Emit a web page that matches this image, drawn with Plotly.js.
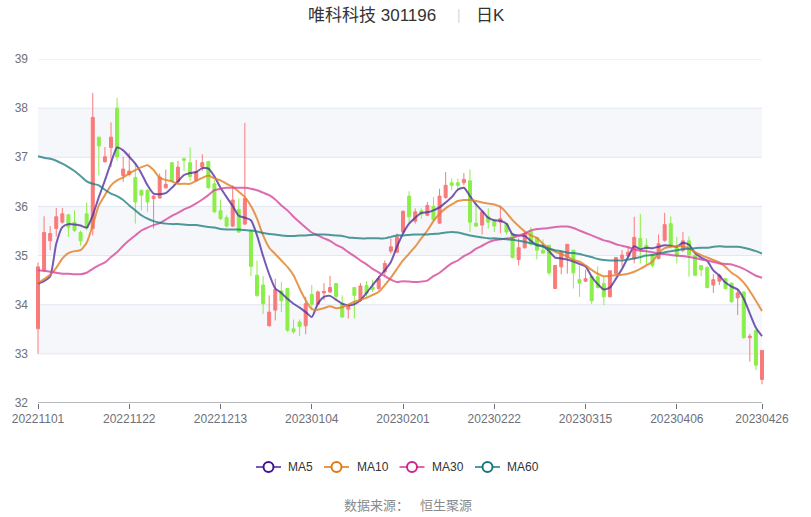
<!DOCTYPE html>
<html><head><meta charset="utf-8">
<script src="https://cdn.plot.ly/plotly-3.0.1.min.js"></script>
<style>html,body{margin:0;padding:0;background:#fff}#chart{width:811px;height:517px}</style>
</head><body><div id="chart"></div>
<script>
const dates = ['20221101','20221102','20221103','20221104','20221107','20221108','20221109','20221110','20221111','20221114','20221115','20221116','20221117','20221118','20221121','20221122','20221123','20221124','20221125','20221128','20221129','20221130',
'20221201','20221202','20221205','20221206','20221207','20221208','20221209','20221212','20221213','20221214','20221215','20221216','20221219','20221220','20221221','20221222','20221223','20221226','20221227','20221228','20221229','20221230',
'20230103','20230104','20230105','20230106','20230109','20230110','20230111','20230112','20230113','20230116','20230117','20230118','20230119','20230120','20230130','20230131',
'20230201','20230202','20230203','20230206','20230207','20230208','20230209','20230210','20230213','20230214','20230215','20230216','20230217','20230220','20230221','20230222','20230223','20230224','20230227','20230228',
'20230301','20230302','20230303','20230306','20230307','20230308','20230309','20230310','20230313','20230314','20230315','20230316','20230317','20230320','20230321','20230322','20230323','20230324','20230327','20230328','20230329','20230330','20230331',
'20230403','20230404','20230406','20230407','20230410','20230411','20230412','20230413','20230414','20230417','20230418','20230419','20230420','20230421','20230424','20230425','20230426'];
const tickIndex = [0,15,30,45,60,75,90,105,119];
const yTicks = [32,33,34,35,36,37,38,39];

const openP = [33.51,34.70,35.30,35.55,35.68,35.83,35.68,35.47,35.85,35.55,
37.41,36.91,37.20,38.00,36.63,36.65,36.59,36.33,36.33,36.16,
36.17,36.38,36.89,36.50,36.97,36.89,36.53,36.80,36.91,36.46,
35.91,35.77,35.60,35.94,35.64,35.51,34.60,34.40,33.57,33.89,
34.28,34.33,33.51,33.65,33.57,34.21,34.01,34.24,34.26,34.43,
34.02,33.91,34.35,34.09,34.39,34.36,34.33,34.67,35.09,35.07,
35.48,36.21,35.70,35.91,35.82,36.00,35.66,36.18,36.48,36.48,
36.48,36.52,35.66,35.62,35.80,35.72,35.68,35.65,35.45,34.92,
35.16,35.49,35.37,35.11,35.21,34.33,34.77,34.96,35.11,34.51,
34.48,34.58,34.57,34.43,34.16,34.63,34.94,34.99,34.94,35.35,
35.21,35.03,34.94,35.31,35.65,35.16,35.11,35.30,35.01,34.80,
34.76,34.40,34.48,34.53,34.44,34.14,34.26,33.33,33.48,32.48];
const highP = [34.86,35.80,35.60,35.97,35.97,35.85,35.92,35.51,36.08,38.31,
37.41,37.21,37.71,38.21,37.01,37.09,36.87,36.34,36.34,36.23,
36.67,36.75,36.89,36.93,36.99,37.20,36.95,37.06,36.93,36.53,
36.14,35.82,36.43,36.16,37.70,35.51,34.90,34.58,34.19,34.53,
34.46,34.33,33.70,33.70,34.16,34.40,34.29,34.44,34.59,34.43,
34.19,34.02,34.35,34.44,34.48,34.51,34.58,34.90,35.35,35.45,
35.92,36.31,35.96,35.96,36.09,36.19,36.36,36.70,36.57,36.57,
36.68,36.75,36.07,35.92,35.96,35.72,36.02,35.65,35.45,35.35,
35.48,35.58,35.37,35.33,35.21,34.80,35.11,35.23,35.11,34.80,
34.71,34.58,34.78,34.57,34.69,34.96,35.11,35.18,35.79,35.85,
35.35,35.03,35.43,35.87,35.80,35.38,35.48,35.39,35.01,34.80,
34.78,34.62,34.63,34.53,34.44,34.33,34.26,33.41,33.48,33.07];
const lowP = [33.00,34.66,35.11,35.39,35.65,35.38,35.48,35.20,35.51,35.41,
36.63,36.89,36.80,36.93,36.50,36.61,35.65,35.92,35.89,35.55,
36.16,36.36,36.49,36.46,36.72,36.52,36.50,36.72,36.36,35.87,
35.72,35.57,35.58,35.46,35.62,34.58,34.16,33.81,33.56,33.68,
33.85,33.45,33.41,33.36,33.40,33.92,33.99,34.09,34.24,34.12,
33.74,33.72,33.72,34.06,34.16,34.26,34.29,34.58,35.04,35.05,
35.46,35.66,35.65,35.75,35.80,35.70,35.65,36.16,36.33,36.34,
36.43,35.48,35.58,35.43,35.55,35.48,35.46,35.43,34.94,34.80,
35.14,35.21,34.92,35.04,34.60,34.33,34.62,34.63,34.33,34.16,
34.46,34.02,34.33,33.99,34.16,34.60,34.77,34.97,34.84,34.84,
34.80,34.76,34.92,35.28,35.14,34.84,35.07,34.57,34.58,34.58,
34.33,34.24,34.40,34.31,34.04,33.79,33.31,32.84,32.67,32.38];
const closeP = [34.77,35.47,35.45,35.79,35.85,35.58,35.51,35.30,35.56,37.81,
37.23,37.01,37.41,37.01,36.76,36.72,36.09,36.23,36.09,36.21,
36.60,36.45,36.52,36.80,36.94,36.61,36.70,36.89,36.38,35.89,
35.75,35.60,36.13,35.48,36.16,34.78,34.19,34.02,33.85,34.31,
34.08,33.48,33.45,33.56,34.02,34.01,34.26,34.27,34.35,34.17,
33.75,33.99,34.19,34.38,34.23,34.31,34.53,34.84,35.18,35.38,
35.90,35.79,35.89,35.84,36.02,35.73,36.21,36.43,36.43,36.43,
36.55,35.68,35.60,35.89,35.68,35.60,35.75,35.48,34.96,35.16,
35.45,35.24,35.11,35.05,34.65,34.80,35.07,35.23,34.65,34.44,
34.53,34.08,34.35,34.16,34.69,34.96,35.01,35.07,35.37,35.16,
35.14,34.80,35.24,35.63,35.20,34.99,35.30,35.01,34.60,34.71,
34.35,34.51,34.60,34.33,34.06,34.24,33.33,33.36,32.77,33.07];

const ma5 = [34.43,34.48,34.58,35.24,35.58,35.64,35.63,35.61,35.57,35.82,
36.19,36.53,36.89,37.20,37.14,37.01,36.87,36.67,36.43,36.26,
36.25,36.27,36.38,36.51,36.64,36.68,36.70,36.78,36.77,36.61,
36.38,36.19,36.01,35.81,35.77,35.72,35.41,34.99,34.62,34.33,
34.24,34.12,34.02,33.94,33.85,33.75,34.02,34.16,34.18,
34.10,34.02,33.99,34.01,34.09,34.24,34.40,34.55,34.70,34.87,
35.18,35.45,35.65,35.77,35.87,35.88,35.92,35.98,36.08,36.19,
36.34,36.38,36.21,36.04,35.91,35.77,35.72,35.71,35.65,35.43,
35.41,35.40,35.30,35.21,35.20,35.09,34.96,34.94,34.92,34.88,
34.83,34.78,34.57,34.42,34.31,34.35,34.53,34.73,34.97,35.19,
35.13,35.16,35.15,35.18,35.21,35.20,35.18,35.26,35.22,35.05,
34.96,34.89,34.70,34.59,34.45,34.37,34.31,34.12,33.82,33.53,33.36];
const ma10 = [34.44,34.52,34.61,34.75,34.94,35.05,35.09,35.11,35.26,35.62,
36.02,36.23,36.43,36.53,36.59,36.67,36.74,36.80,36.84,36.74,
36.58,36.54,36.51,36.46,36.46,36.46,36.52,36.58,36.63,36.57,
36.53,36.46,36.40,36.30,36.19,36.01,35.75,35.41,35.16,35.03,
34.90,34.77,34.60,34.33,34.09,33.91,33.90,33.93,33.97,
33.93,33.95,34.00,34.06,34.10,34.14,34.20,34.26,34.40,34.55,
34.73,34.90,35.04,35.18,35.35,35.51,35.70,35.85,35.96,36.04,
36.11,36.13,36.13,36.11,36.08,36.06,36.04,35.99,35.87,35.72,
35.60,35.49,35.41,35.36,35.24,35.15,35.08,35.03,34.98,34.91,
34.88,34.80,34.71,34.63,34.58,34.59,34.60,34.61,34.63,34.67,
34.73,34.80,34.88,35.05,35.15,35.18,35.19,35.19,35.14,35.07,
35.01,34.96,34.91,34.86,34.77,34.65,34.57,34.45,34.28,34.08,33.87];
const ma30 = [34.70,34.69,34.67,34.65,34.63,34.63,34.62,34.62,34.65,34.73,
34.80,34.86,34.97,35.07,35.20,35.31,35.41,35.51,35.57,35.62,
35.66,35.73,35.81,35.87,35.94,35.99,36.06,36.14,36.23,36.33,
36.36,36.38,36.38,36.38,36.38,36.36,36.33,36.28,36.23,36.14,
36.02,35.92,35.79,35.68,35.57,35.47,35.41,35.35,35.30,35.22,
35.16,35.07,34.99,34.90,34.82,34.73,34.66,34.58,34.51,34.46,
34.48,34.47,34.46,34.47,34.49,34.58,34.65,34.75,34.84,
34.90,34.99,35.05,35.14,35.20,35.27,35.31,35.33,35.35,35.36,
35.40,35.45,35.51,35.54,35.55,35.56,35.58,35.59,35.59,35.56,
35.51,35.46,35.41,35.36,35.31,35.28,35.23,35.20,35.17,35.13,
35.10,35.09,35.07,35.04,35.03,35.01,35.00,34.99,34.97,34.95,
34.92,34.90,34.87,34.84,34.83,34.82,34.78,34.73,34.66,34.59,34.55];
const ma60 = [37.02,36.99,36.97,36.93,36.87,36.80,36.72,36.62,36.51,36.46,
36.43,36.34,36.26,36.21,36.13,36.02,35.92,35.82,35.75,35.70,
35.67,35.65,35.64,35.64,35.63,35.62,35.62,35.60,35.58,35.57,
35.54,35.53,35.53,35.53,35.52,35.51,35.49,35.46,35.44,35.43,
35.41,35.40,35.40,35.41,35.41,35.42,35.43,35.43,35.42,35.41,
35.40,35.37,35.36,35.35,35.35,35.35,35.35,35.35,35.38,35.41,
35.41,35.42,35.43,35.43,35.43,35.44,35.45,35.47,35.48,
35.47,35.44,35.41,35.39,35.37,35.35,35.35,35.34,35.33,35.32,
35.30,35.28,35.25,35.22,35.18,35.14,35.11,35.09,35.06,35.05,
35.03,35.00,34.97,34.93,34.91,34.90,34.90,34.90,34.92,34.94,
34.97,35.00,35.01,35.04,35.07,35.09,35.11,35.13,35.14,35.15,
35.16,35.16,35.18,35.19,35.18,35.18,35.18,35.16,35.13,35.09,35.04];
const maNames = ['MA5','MA10','MA30','MA60'];

// ---------- layout geometry ----------
const W = 811, H = 517, ML = 35, MR = 46, MT = 59, MB = 114;
const X0 = 38, X1 = 762;
const n = dates.length;
const step = (X1 - X0) / (n - 1);
const plotW = W - ML - MR, plotH = H - MT - MB;
const xRange = [-(X0 - ML) / step, (n - 1) + (W - MR - X1) / step];
const px = v => (v - ML) / plotW;
const py = v => (H - MB - v) / plotH;
const idx = dates.map((d, i) => i);

const baseCol = ['#3c1494', '#e2770f', '#d3228b', '#14797d'];
const lineCol = ['rgba(80,45,160,0.78)', 'rgba(226,128,40,0.82)', 'rgba(214,70,155,0.8)', 'rgba(30,125,128,0.78)'];
const FONT = 'Liberation Sans, Noto Sans CJK SC, sans-serif';

const traces = [{
  type: 'candlestick', x: idx, open: openP, high: highP, low: lowP, close: closeP,
  increasing: {line: {color: '#f87b7b', width: 1}, fillcolor: '#f87b7b'},
  decreasing: {line: {color: '#8bee4a', width: 1}, fillcolor: '#8bee4a'},
  whiskerwidth: 0, showlegend: false, hoverinfo: 'skip'
}];
[ma5, ma10, ma30, ma60].forEach((arr, k) => {
  traces.push({type: 'scatter', mode: 'lines', x: idx, y: arr, showlegend: false, hoverinfo: 'skip',
    line: {color: lineCol[k], width: 2, shape: 'spline', smoothing: 0.6}});
});

const shapes = [];
[[37, 38], [35, 36], [33, 34]].forEach(b => shapes.push({type: 'rect', xref: 'x', yref: 'y', x0: 0, x1: n - 1, y0: b[0], y1: b[1], fillcolor: '#f6f7fb', line: {width: 0}, layer: 'below'}));
yTicks.forEach(t => { if (t > yTicks[0]) shapes.push({type: 'line', xref: 'x', yref: 'y', x0: 0, x1: n - 1, y0: t, y1: t, line: {color: '#e0e6f1', width: 1}, layer: 'below'}); });
shapes.push({type: 'line', xref: 'x', yref: 'y', x0: 0, x1: n - 1, y0: yTicks[0], y1: yTicks[0], line: {color: '#6e7079', width: 1}, layer: 'above'});

const annotations = [];
// title
annotations.push({xref: 'paper', yref: 'paper', x: px(372), y: py(15), text: '唯科科技 301196', showarrow: false, xanchor: 'center', yanchor: 'middle', font: {family: FONT, size: 17, color: '#333333'}});
annotations.push({xref: 'paper', yref: 'paper', x: px(459), y: py(15), text: '|', showarrow: false, xanchor: 'center', yanchor: 'middle', font: {family: FONT, size: 14, color: '#d8d8d8'}});
annotations.push({xref: 'paper', yref: 'paper', x: px(490.5), y: py(15), text: '日K', showarrow: false, xanchor: 'center', yanchor: 'middle', font: {family: FONT, size: 17, color: '#333333'}});
// legend
const legX = [256, 324, 399.5, 475];
const legText = [286, 355, 430, 505];
const LY = 467;
maNames.forEach((nm, k) => {
  shapes.push({type: 'line', xref: 'paper', yref: 'paper', x0: px(legX[k]), x1: px(legX[k] + 25), y0: py(LY), y1: py(LY), line: {color: lineCol[k], width: 2}});
  const cx = legX[k] + 12.5, r = 5;
  shapes.push({type: 'circle', xref: 'paper', yref: 'paper', x0: px(cx - r), x1: px(cx + r), y0: py(LY + r), y1: py(LY - r), fillcolor: '#ffffff', line: {color: baseCol[k], width: 2}});
  annotations.push({xref: 'paper', yref: 'paper', x: px(legText[k]), y: py(LY), text: nm, showarrow: false, xanchor: 'left', yanchor: 'middle', font: {family: FONT, size: 12, color: '#333333'}});
});
// footer
annotations.push({xref: 'paper', yref: 'paper', x: px(342), y: py(506), text: '数据来源：', showarrow: false, xanchor: 'left', yanchor: 'middle', font: {family: FONT, size: 13, color: '#8a8a8a'}});
annotations.push({xref: 'paper', yref: 'paper', x: px(418), y: py(506), text: '恒生聚源', showarrow: false, xanchor: 'left', yanchor: 'middle', font: {family: FONT, size: 13, color: '#8a8a8a'}});

const layout = {
  width: W, height: H, margin: {l: ML, r: MR, t: MT, b: MB, pad: 0},
  paper_bgcolor: '#ffffff', plot_bgcolor: 'rgba(0,0,0,0)',
  font: {family: FONT, size: 12, color: '#6e7079'},
  showlegend: false, hovermode: false,
  xaxis: {type: 'linear', range: xRange, showgrid: false, zeroline: false, showline: false,
    rangeslider: {visible: false}, fixedrange: true,
    tickmode: 'array', tickvals: tickIndex, ticktext: tickIndex.map(i => dates[i]),
    ticks: 'outside', ticklen: 5, tickwidth: 1, tickcolor: '#6e7079',
    tickfont: {family: FONT, size: 12, color: '#6e7079'}},
  yaxis: {range: [yTicks[0], yTicks[yTicks.length - 1]], showgrid: false, zeroline: false, showline: false,
    tickmode: 'array', tickvals: yTicks, ticks: '', ticklabelstandoff: 6, fixedrange: true,
    tickfont: {family: FONT, size: 12, color: '#6e7079'}},
  shapes: shapes, annotations: annotations
};
Plotly.newPlot('chart', traces, layout, {staticPlot: true, displayModeBar: false});
</script></body></html>
